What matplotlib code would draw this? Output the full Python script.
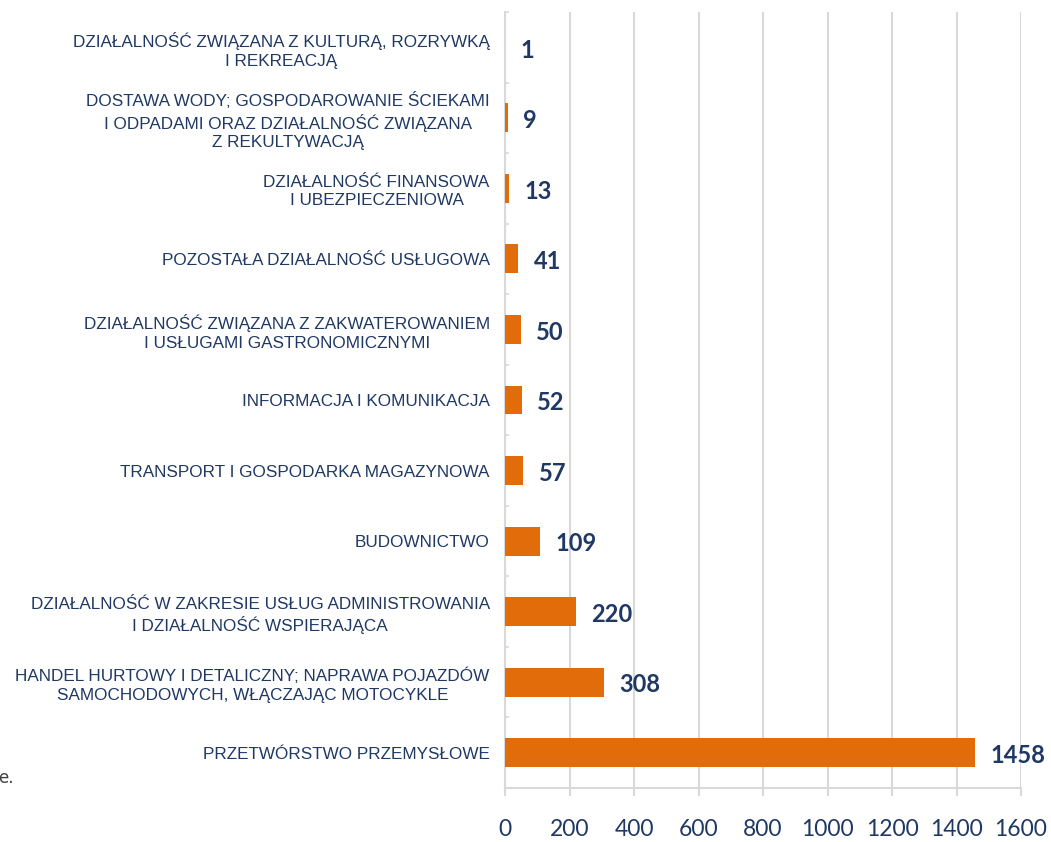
import numpy as np
import matplotlib
matplotlib.use("Agg")
import matplotlib.pyplot as plt

# data, top to bottom as in the chart
categories = [
    "DZIAŁALNOŚĆ ZWIĄZANA Z KULTURĄ, ROZRYWKĄ\nI REKREACJĄ",
    "DOSTAWA WODY; GOSPODAROWANIE ŚCIEKAMI\nI ODPADAMI ORAZ DZIAŁALNOŚĆ ZWIĄZANA\nZ REKULTYWACJĄ",
    "DZIAŁALNOŚĆ FINANSOWA\nI UBEZPIECZENIOWA",
    "POZOSTAŁA DZIAŁALNOŚĆ USŁUGOWA",
    "DZIAŁALNOŚĆ ZWIĄZANA Z ZAKWATEROWANIEM\nI USŁUGAMI GASTRONOMICZNYMI",
    "INFORMACJA I KOMUNIKACJA",
    "TRANSPORT I GOSPODARKA MAGAZYNOWA",
    "BUDOWNICTWO",
    "DZIAŁALNOŚĆ W ZAKRESIE USŁUG ADMINISTROWANIA\nI DZIAŁALNOŚĆ WSPIERAJĄCA",
    "HANDEL HURTOWY I DETALICZNY; NAPRAWA POJAZDÓW\nSAMOCHODOWYCH, WŁĄCZAJĄC MOTOCYKLE",
    "PRZETWÓRSTWO PRZEMYSŁOWE",
]
values = [1, 9, 13, 41, 50, 52, 57, 109, 220, 308, 1458]
xticks = [0, 200, 400, 600, 800, 1000, 1200, 1400, 1600]

NAVY = "#1F3864"
ORANGE = "#E36C0A"
GRID = "#D9D9D9"

fig = plt.figure(figsize=(10.51, 8.42), dpi=100)
ax = fig.add_axes([505 / 1051, 1 - 788 / 842, (1021 - 505) / 1051, (788 - 12) / 842])

n = len(values)
ypos = np.arange(n)
ax.barh(ypos, values, height=0.41, color=ORANGE, zorder=3)
ax.set_ylim(n - 0.5, -0.5)
ax.set_xlim(0, 1600)

ax.set_yticks(ypos)
ax.set_yticklabels(categories, fontsize=12.3, color=NAVY, multialignment="center",
                   linespacing=1.3, family="Liberation Sans")
ax.tick_params(axis="y", length=0, pad=11)
ax.set_yticks(np.arange(n + 1) - 0.5, minor=True)
ax.tick_params(axis="y", which="minor", length=3, color=GRID, direction="in", width=1.2)

ax.set_xticks(xticks)
ax.set_xticklabels([str(t) for t in xticks], fontsize=16.5, color=NAVY, family="Lato")
ax.tick_params(axis="x", length=6, color=GRID, width=1.5, pad=16)

ax.grid(axis="x", color=GRID, linewidth=1.5, zorder=0)
for s in ["top", "right"]:
    ax.spines[s].set_visible(False)
for s in ["left", "bottom"]:
    ax.spines[s].set_color(GRID)
    ax.spines[s].set_linewidth(1.5)

for y, v in zip(ypos, values):
    ax.annotate(str(v), (v, y), xytext=(11, -2), textcoords="offset points",
                ha="left", va="center", fontsize=17, fontweight="bold",
                color=NAVY, family="Lato")

fig.text(-0.002, 1 - 778 / 842, "e.", fontsize=12, color="#404040", va="center")

fig.savefig("out.png", dpi=100)
